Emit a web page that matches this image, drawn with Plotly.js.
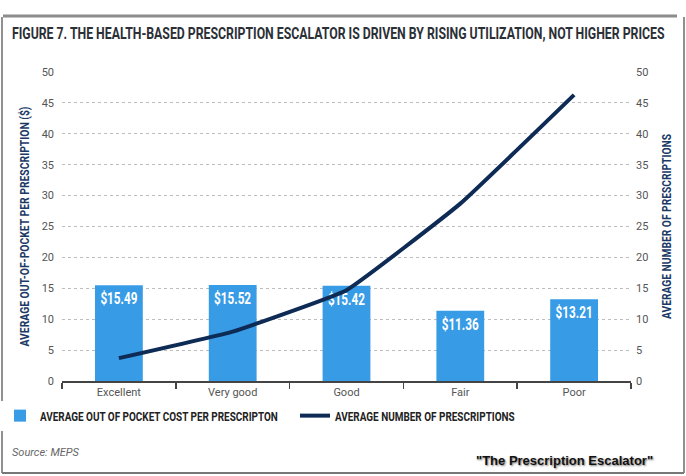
<!DOCTYPE html>
<html>
<head>
<meta charset="utf-8">
<script src="https://cdn.plot.ly/plotly-3.0.1.min.js"></script>
<style>html,body{margin:0;padding:0;background:#fff;}#chart{width:686px;height:476px;}</style>
</head>
<body>
<div id="chart"></div>
<script>
var categories = ["Excellent", "Very good", "Good", "Fair", "Poor"];
var avgCost = [15.49, 15.52, 15.42, 11.36, 13.21];
var avgCostLabels = ["$15.49", "$15.52", "$15.42", "$11.36", "$13.21"];
var avgNumber = [3.7, 8.0, 14.7, 28.7, 46.3];
var yTicks = [0, 5, 10, 15, 20, 25, 30, 35, 40, 45, 50];

var COND = "Roboto, 'Liberation Sans', sans-serif";
var NAVY = "#0d2b55";

var W = 686, H = 476, ML = 62, MR = 55, MT = 72, MB = 95;
var PW = W - ML - MR, PH = H - MT - MB;
function px(x) { return (x - ML) / PW; }
function py(y) { return 1 - (y - MT) / PH; }

var traces = [
  {
    type: "bar",
    x: categories,
    y: avgCost,
    name: "AVERAGE OUT OF POCKET COST PER PRESCRIPTON",
    marker: { color: "#379be6" },
    width: 0.42,
    text: avgCostLabels,
    textposition: "inside",
    insidetextanchor: "end",
    constraintext: "none",
    textangle: 0,
    textfont: { family: COND, size: 17, color: "#ffffff", weight: "bold" },
    hoverinfo: "x+y",
    yaxis: "y"
  },
  {
    type: "scatter",
    mode: "lines",
    x: categories,
    y: avgNumber,
    name: "AVERAGE NUMBER OF PRESCRIPTIONS",
    line: { color: NAVY, width: 4, shape: "spline", smoothing: 0.3 },
    yaxis: "y2"
  }
];

var layout = {
  width: W, height: H,
  margin: { l: ML, r: MR, t: MT, b: MB, pad: 0, autoexpand: false },
  paper_bgcolor: "#ffffff",
  plot_bgcolor: "#ffffff",
  showlegend: true,
  title: {
    text: "FIGURE 7. THE HEALTH-BASED PRESCRIPTION ESCALATOR IS DRIVEN BY RISING UTILIZATION, NOT HIGHER PRICES",
    font: { family: COND, size: 16, color: "#2b2f36", weight: "bold" },
    xref: "container", yref: "container",
    x: 12 / W, xanchor: "left",
    y: 1 - 33 / H, yanchor: "middle"
  },
  font: { family: "Roboto, 'Liberation Sans', sans-serif", size: 11, color: "#555" },
  xaxis: {
    type: "category",
    showgrid: false,
    showline: true, linecolor: "#444", linewidth: 1.5,
    ticks: "outside", tickson: "boundaries", ticklen: 6, tickcolor: "#444", tickwidth: 1.5,
    tickfont: { family: "Roboto, sans-serif", size: 11, color: "#555" },
    zeroline: false
  },
  yaxis: {
    range: [0, 50],
    tickvals: yTicks,
    showgrid: true, gridcolor: "#bdbdbd", griddash: "dot", gridwidth: 1,
    zeroline: false, showline: false, ticks: "",
    tickfont: { family: "Roboto, sans-serif", size: 11, color: "#555" },
    ticklabelstandoff: 7,
    title: { text: "AVERAGE OUT-OF-POCKET PER PRESCRIPTION ($)", font: { family: COND, size: 12, color: "#1b3966", weight: "bold" }, standoff: 9 }
  },
  yaxis2: {
    range: [0, 50],
    tickvals: yTicks,
    overlaying: "y", side: "right",
    showgrid: false, zeroline: false, showline: false, ticks: "",
    tickfont: { family: "Roboto, sans-serif", size: 11, color: "#555" },
    ticklabelstandoff: 4,
    title: { text: "AVERAGE NUMBER OF PRESCRIPTIONS", font: { family: COND, size: 12, color: "#1b3966", weight: "bold" }, standoff: 15 }
  },
  legend: {
    orientation: "h",
    x: px(0), xanchor: "left",
    y: py(401), yanchor: "top",
    font: { family: COND, size: 12.5, color: "#222", weight: "bold" },
    itemwidth: 30,
    entrywidth: 250,
    entrywidthmode: "pixels",
    traceorder: "normal"
  },
  annotations: [
    {
      xref: "paper", yref: "paper",
      x: px(10), xanchor: "left",
      y: py(452), yanchor: "middle",
      text: "<i>Source: MEPS</i>", showarrow: false,
      font: { family: "Roboto, sans-serif", size: 11, color: "#666" }
    },
    {
      xref: "paper", yref: "paper",
      x: px(655), xanchor: "right",
      y: py(460), yanchor: "middle",
      text: "<b>\"The Prescription Escalator\"</b>", showarrow: false,
      font: { family: "'Liberation Sans', Arial, sans-serif", size: 13, color: "#111", shadow: "1px 1px 2px #777" }
    }
  ],
  shapes: [
    { type: "line", xref: "paper", yref: "paper", x0: px(3), x1: px(677), y0: py(16), y1: py(16), line: { color: "#8c8c8c", width: 3 } },
    { type: "line", xref: "paper", yref: "paper", x0: px(2), x1: px(2), y0: py(17), y1: py(473), line: { color: "#222", width: 1 } },
    { type: "line", xref: "paper", yref: "paper", x0: px(684), x1: px(684), y0: py(17), y1: py(473), line: { color: "#222", width: 1 } },
    { type: "line", xref: "paper", yref: "paper", x0: px(2), x1: px(684), y0: py(473), y1: py(473), line: { color: "#777", width: 2 } }
  ]
};

function squeeze(el, len) {
  if (!el) return;
  el.setAttribute("textLength", len);
  el.setAttribute("lengthAdjust", "spacingAndGlyphs");
}
function scaleX(el, len) {
  if (!el) return;
  var L = el.getComputedTextLength();
  if (!L) return;
  var s = len / L;
  var x0 = parseFloat(el.getAttribute("x")) || 0;
  var prev = el.getAttribute("transform") || "";
  el.setAttribute("transform", prev + " translate(" + (x0 * (1 - s)) + ",0) scale(" + s + ",1)");
}

Plotly.newPlot("chart", traces, layout, { displayModeBar: false, staticPlot: true }).then(function (gd) {
  scaleX(gd.querySelector(".gtitle"), 653);
  squeeze(gd.querySelector(".ytitle"), 240);
  squeeze(gd.querySelector(".y2title"), 185);
  var lt = gd.querySelectorAll(".legendtext");
  scaleX(lt[0], 238);
  scaleX(lt[1], 180);
  gd.querySelectorAll(".bartext").forEach(function (t) { squeeze(t, 37); });
});
</script>
</body>
</html>
